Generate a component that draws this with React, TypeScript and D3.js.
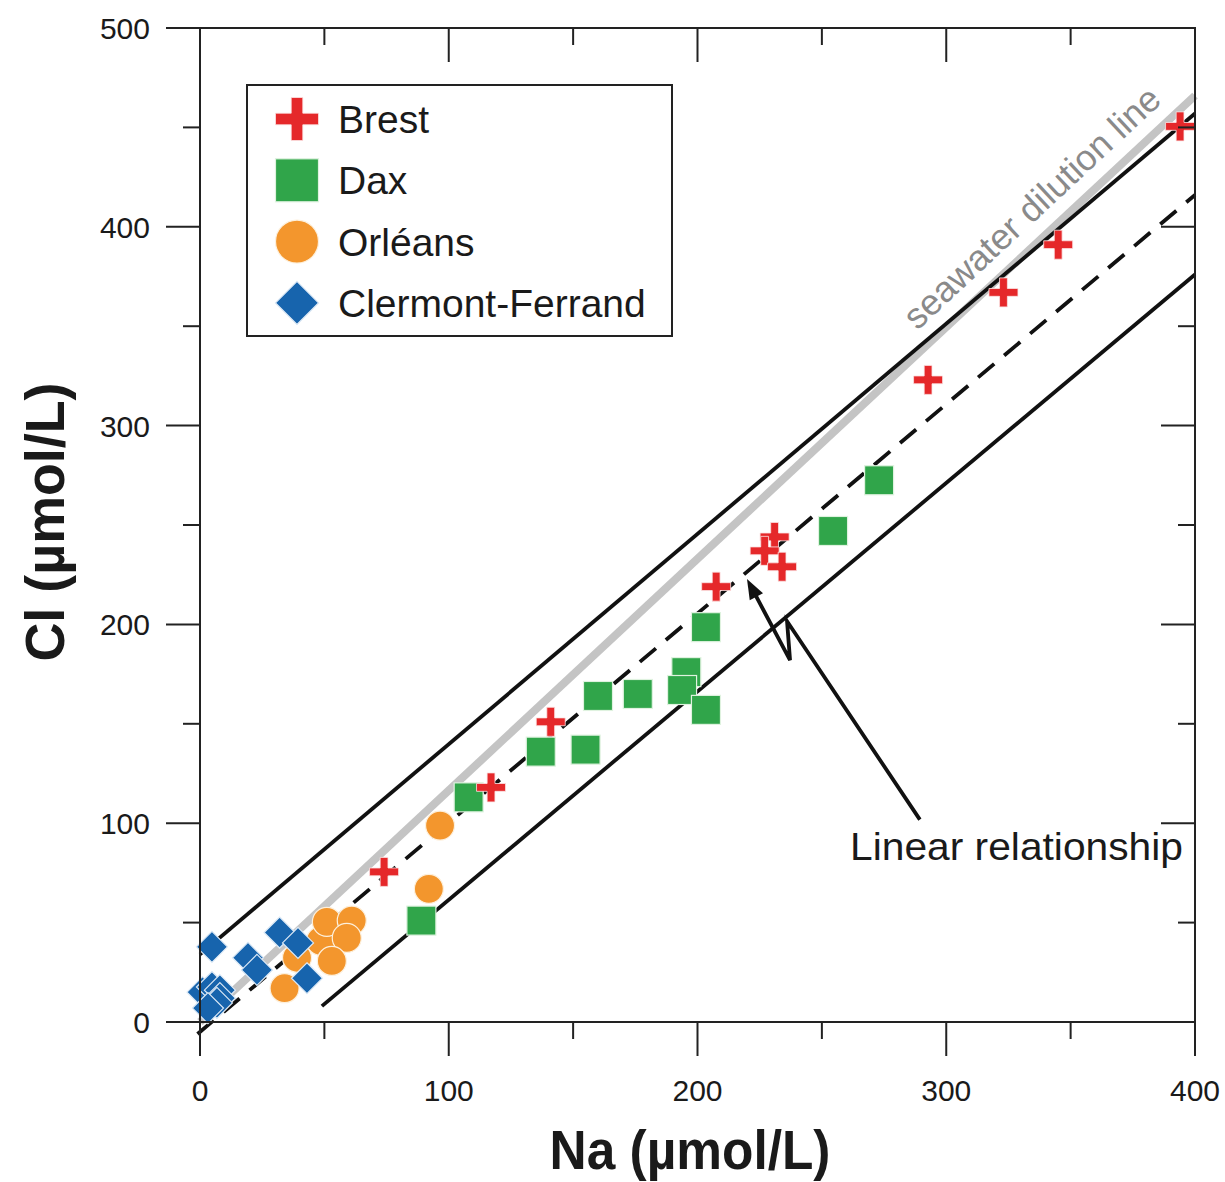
import React from "react"
import { scaleLinear, line, range } from "d3"

// Na, Cl pairs (µmol/L)
const brest = [
  [74, 75.5], [117, 118], [141, 151], [207.5, 219], [231, 244],
  [227, 237], [234, 229], [292.7, 323], [323, 367], [345, 391], [394, 450.5]
]
const dax = [
  [108, 113], [89, 51], [137, 136], [155, 137], [160, 164], [176, 165],
  [195.5, 176], [193.8, 167], [203.4, 157], [203.4, 198.6], [254.5, 247], [273, 272.5]
]
const orleans = [
  [96.5, 98.8], [92, 67], [48.6, 40.8], [51, 50.4], [61, 51], [59, 42.3],
  [53, 30.7], [39, 32.3], [34, 17]
]
const clermont = [
  [4.8, 37.8], [32, 45], [39.4, 39.8], [19.3, 32.3], [22.9, 26.2], [43, 22],
  [1, 15], [4.8, 17.6], [8, 16], [8, 12], [6.8, 9.6], [3.2, 7]
]

const seawaterLine = [[0, 0], [400, 466]]
const upperLine = [[0, 34], [400, 457]]
const fitLine = [[-1, -6], [400, 416]]
const lowerLine = [[49, 8], [400, 376]]
const arrowPath = [[219.9, 222.8], [237.2, 182], [236, 201.6], [289.4, 101.8]]

const legendItems = ["Brest", "Dax", "Orléans", "Clermont-Ferrand"]
const xTickLabels = [0, 100, 200, 300, 400]
const yTickLabels = [0, 100, 200, 300, 400, 500]

const RED = "#e5282a"
const GREEN = "#30a54a"
const ORANGE = "#f3962d"
const BLUE = "#1764ad"
const FONT = "'Liberation Sans', Arial, sans-serif"

function plusPath(s, t) {
  const a = s / 2
  const b = t / 2
  return `M${-b},${-a}H${b}V${-b}H${a}V${b}H${b}V${a}H${-b}V${b}H${-a}V${-b}H${-b}Z`
}

function Marker({ kind, cx, cy, size }) {
  const h = size / 2
  if (kind === 0)
    return <path d={plusPath(size, size * 0.27)} transform={`translate(${cx},${cy})`} fill={RED} stroke="#fbe3e3" strokeWidth={0.8} />
  if (kind === 1)
    return <rect x={cx - h} y={cy - h} width={size} height={size} fill={GREEN} stroke="#dff2df" strokeWidth={1.2} />
  if (kind === 2)
    return <circle cx={cx} cy={cy} r={h} fill={ORANGE} stroke="#fdf0dc" strokeWidth={1.2} />
  return <path d={`M0,${-h}L${h},0L0,${h}L${-h},0Z`} transform={`translate(${cx},${cy})`} fill={BLUE} stroke="#dce9f6" strokeWidth={1.2} />
}

export default function App() {
  const W = 1225
  const H = 1182
  const x = scaleLinear().domain([0, 400]).range([200, 1195])
  const y = scaleLinear().domain([0, 500]).range([1022, 28])
  const ln = line().x(d => x(d[0])).y(d => y(d[1]))

  const xMinor = range(0, 401, 50)
  const yMinor = range(0, 501, 50)
  const major = 34
  const minor = 17

  // arrow head at the first point of arrowPath
  const tip = [x(arrowPath[0][0]), y(arrowPath[0][1])]
  const from = [x(arrowPath[1][0]), y(arrowPath[1][1])]
  const ang = Math.atan2(tip[1] - from[1], tip[0] - from[0])
  const hl = 20
  const hw = 7.5
  const base = [tip[0] - hl * Math.cos(ang), tip[1] - hl * Math.sin(ang)]
  const head = [
    tip,
    [base[0] + hw * Math.sin(ang), base[1] - hw * Math.cos(ang)],
    [base[0] - hw * Math.sin(ang), base[1] + hw * Math.cos(ang)]
  ]
  const shaft = [[base[0] + 6 * Math.cos(ang), base[1] + 6 * Math.sin(ang)]].concat(
    arrowPath.slice(1).map(d => [x(d[0]), y(d[1])])
  )

  // seawater label along the gray line
  const sx0 = x(293)
  const sy0 = y(293 * 466 / 400)
  const sAng = Math.atan2(y(466) - y(0), x(400) - x(0)) * 180 / Math.PI
  const off = 17
  const rad = sAng * Math.PI / 180
  const lx = sx0 + off * Math.sin(rad)
  const ly = sy0 - off * Math.cos(rad)

  const series = [brest, dax, orleans, clermont]
  const drawOrder = [2, 1, 0, 3]
  const sizes = [29, 29, 29, 31]

  return (
    <svg width={W} height={H} style={{ position: "absolute", left: 0, top: 0, background: "#fff" }} fontFamily={FONT}>
      <rect width={W} height={H} fill="#fff" />

      {/* reference lines */}
      <path d={ln(seawaterLine)} stroke="#c4c4c4" strokeWidth={8} fill="none" />
      <path d={ln(upperLine)} stroke="#111" strokeWidth={3.8} fill="none" />
      <path d={ln(lowerLine)} stroke="#111" strokeWidth={3.8} fill="none" />
      <path d={ln(fitLine)} stroke="#111" strokeWidth={3.8} fill="none" strokeDasharray="21,13" />

      <text
        x={lx}
        y={ly}
        transform={`rotate(${sAng},${lx},${ly})`}
        fontSize={36}
        textLength={336}
        lengthAdjust="spacingAndGlyphs"
        fill="#8a8a8a"
      >
        seawater dilution line
      </text>

      {/* markers */}
      {drawOrder.map(k => (
        <g key={k}>
          {series[k].map((d, i) => (
            <Marker key={i} kind={k} cx={x(d[0])} cy={y(d[1])} size={sizes[k]} />
          ))}
        </g>
      ))}

      {/* arrow */}
      <path d={line()(shaft)} stroke="#111" strokeWidth={3.8} fill="none" strokeLinejoin="miter" />
      <path d={`M${head.map(p => p.join(",")).join("L")}Z`} fill="#111" />
      <text x={850} y={860} fontSize={39.5} textLength={333} lengthAdjust="spacingAndGlyphs" fill="#1a1a1a">Linear relationship</text>

      {/* frame */}
      <rect x={200} y={28} width={995} height={994} fill="none" stroke="#222" strokeWidth={2} />

      {/* ticks */}
      {xMinor.map(v => {
        const len = v % 100 === 0 ? major : minor
        return (
          <g key={"x" + v} stroke="#222" strokeWidth={2}>
            <line x1={x(v)} x2={x(v)} y1={y(0)} y2={y(0) + len} />
            <line x1={x(v)} x2={x(v)} y1={y(500)} y2={y(500) + len} />
          </g>
        )
      })}
      {yMinor.map(v => {
        const len = v % 100 === 0 ? major : minor
        return (
          <g key={"y" + v} stroke="#222" strokeWidth={2}>
            <line x1={x(0) - len} x2={x(0)} y1={y(v)} y2={y(v)} />
            <line x1={x(400) - len} x2={x(400)} y1={y(v)} y2={y(v)} />
          </g>
        )
      })}

      {xTickLabels.map(v => (
        <text key={"xl" + v} x={x(v)} y={1101} fontSize={30} textAnchor="middle" fill="#1a1a1a">{v}</text>
      ))}
      {yTickLabels.map(v => (
        <text key={"yl" + v} x={150} y={y(v) + 11} fontSize={30} textAnchor="end" fill="#1a1a1a">{v}</text>
      ))}

      <text x={690} y={1169} fontSize={55} fontWeight="bold" textAnchor="middle" textLength={281} lengthAdjust="spacingAndGlyphs" fill="#1a1a1a">
        Na (µmol/L)
      </text>
      <text
        x={0}
        y={0}
        transform={`translate(64,522) rotate(-90)`}
        fontSize={55}
        fontWeight="bold"
        textAnchor="middle"
        textLength={279}
        lengthAdjust="spacingAndGlyphs"
        fill="#1a1a1a"
      >
        Cl (µmol/L)
      </text>

      {/* legend */}
      <rect x={247} y={85} width={425} height={251} fill="#fff" stroke="#222" strokeWidth={2} />
      {legendItems.map((name, i) => {
        const cy = 119 + i * 61.3
        return (
          <g key={name}>
            <Marker kind={i} cx={297} cy={cy} size={43} />
            <text x={338} y={cy + 14} fontSize={39} fill="#1a1a1a">{name}</text>
          </g>
        )
      })}
    </svg>
  )
}
